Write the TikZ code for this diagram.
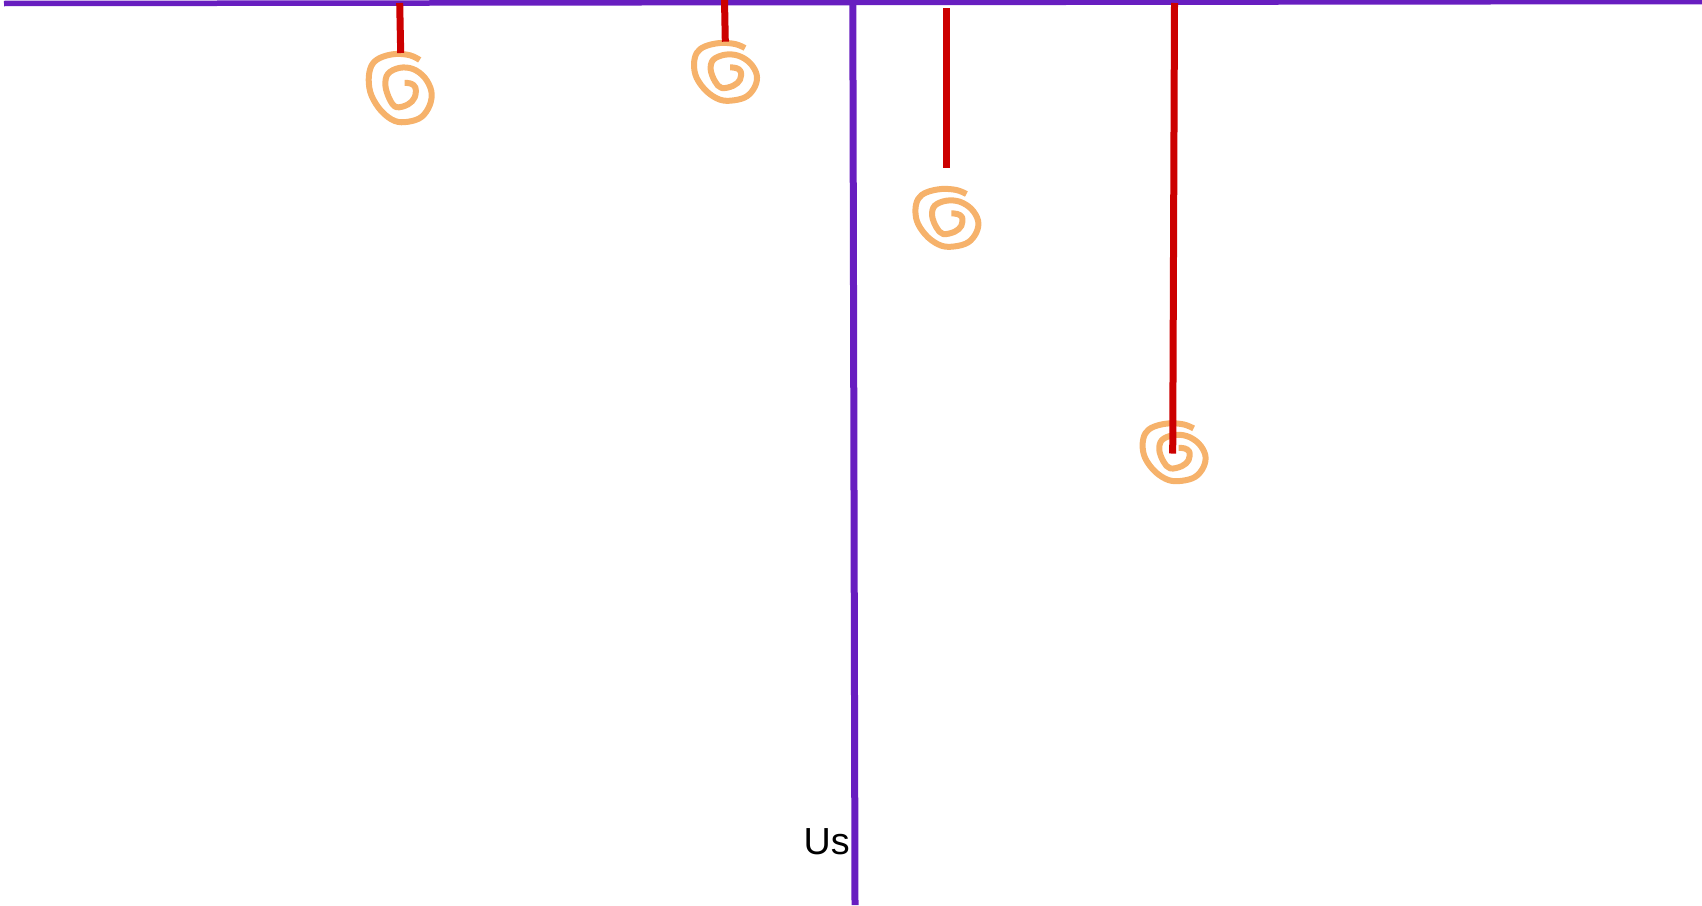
\documentclass[tikz,border=0pt]{standalone}
\usepackage{fontspec}
\setmainfont{Liberation Sans}
\definecolor{axispurple}{RGB}{104,30,192}
\definecolor{stemred}{RGB}{204,0,0}
\definecolor{coilorange}{RGB}{246,178,107}
\tikzset{
  axisline/.style={draw=axispurple, line width=5.5pt},
  vaxisline/.style={draw=axispurple, line width=7pt},
  stemline/.style={draw=stemred, line width=7pt, line cap=butt},
  coilline/.style={draw=coilorange, line width=6pt, line cap=butt, line join=round},
  coilpic/.pic={
    \draw[coilline] plot[smooth, tension=0.6] coordinates {
      (20,6.3) (10,2.3) (-5,1.3) (-20,4.7) (-28.3,11.3) (-31,23) (-28.3,36.3)
      (-18.3,49.7) (-5,58) (8.3,58.7) (21.7,54.7) (30,44.7) (31.7,33)
      (25,21.3) (13.3,14) (0,13) (-11.7,18) (-14.3,28) (-10,39.7)
      (-3.3,46.3) (8.3,44) (15,38) (15.7,29.7) (11,26.3) (5,25.7)};
  },
  labeltext/.style={inner sep=0pt, font=\fontsize{37.7}{40}\selectfont, text=black}
}
\begin{document}
\begin{tikzpicture}[x=1pt, y=-1pt]
\useasboundingbox (0,0) rectangle (1702,905);
% axes
\coordinate (hL) at (4,3.5);
\coordinate (hR) at (1702,1.5);
\coordinate (vT) at (852.8,3);
\coordinate (vB) at (855,905);
\draw[axisline] (hL) -- (hR);
\draw[vaxisline] (vT) -- (vB);
% stems
\coordinate (s1t) at (399.7,3);   \coordinate (s1b) at (400.7,53);
\coordinate (s2t) at (724.5,0);   \coordinate (s2b) at (725.3,41.7);
\coordinate (s3t) at (946.7,8);   \coordinate (s3b) at (946.7,167.5);
\coordinate (s4t) at (1174.5,3);  \coordinate (s4b) at (1172.7,453.5);
% coils
\pic (c1) [yscale=1.18] at (399.7,52.5) {coilpic};
\pic (c2) at (725,41.7) {coilpic};
\pic (c3) at (946.4,187.7) {coilpic};
\pic (c4) at (1173.6,422.1) {coilpic};
\draw[stemline] (s1t) -- (s1b);
\draw[stemline] (s2t) -- (s2b);
\draw[stemline] (s3t) -- (s3b);
\draw[stemline] (s4t) -- (s4b);
% label
\node[labeltext, anchor=base east] (us) at (850,854) {Us};
\end{tikzpicture}
\end{document}
